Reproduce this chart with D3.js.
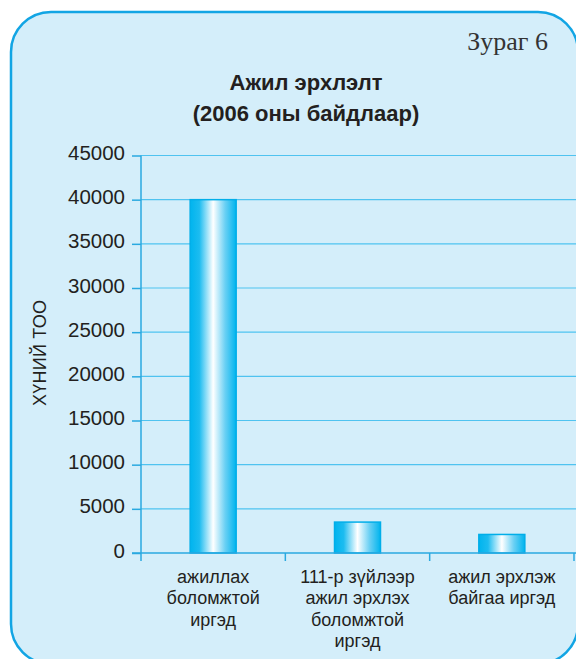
<!DOCTYPE html>
<html>
<head>
<meta charset="utf-8">
<script src="https://cdn.jsdelivr.net/npm/d3@7"></script>
<style>
  html, body { margin: 0; padding: 0; background: #ffffff; }
  svg { display: block; }
</style>
</head>
<body>
<svg id="chart" width="576" height="659"></svg>
<script>
// ---- data ----
const categories = [
  ["ажиллах", "боломжтой", "иргэд"],
  ["111-р зүйлээр", "ажил эрхлэх", "боломжтой", "иргэд"],
  ["ажил эрхлэж", "байгаа иргэд"]
];
const categoryKeys = ["c1", "c2", "c3"];
const values = [40000, 3500, 2100];
const yTicks = [0, 5000, 10000, 15000, 20000, 25000, 30000, 35000, 40000, 45000];
const titleLines = ["Ажил эрхлэлт", "(2006 оны байдлаар)"];
const figureLabel = "Зураг 6";
const yLabel = "ХҮНИЙ ТОО";

// ---- layout ----
const svg = d3.select("#chart");
const plot = { left: 141, right: 574, top: 155.5, bottom: 553 };
const ink = "#231f20";
const sans = "'Liberation Sans', Arial, Helvetica, sans-serif";

// gradient
const defs = svg.append("defs");
const grad = defs.append("linearGradient").attr("id", "barGrad")
  .attr("x1", "0%").attr("x2", "100%").attr("y1", "0%").attr("y2", "0%");
[[0, "#00b4ee"], [0.2, "#1cbcf0"], [0.5, "#ffffff"], [0.76, "#6ad0f4"], [1, "#00b4ee"]]
  .forEach(([o, c]) => grad.append("stop").attr("offset", o).attr("stop-color", c));

// panel
svg.append("rect")
  .attr("x", 11).attr("y", 12).attr("width", 567).attr("height", 652)
  .attr("rx", 40).attr("ry", 40)
  .attr("fill", "#d4eefa").attr("stroke", "#12a5e4").attr("stroke-width", 2.5);

// figure label
svg.append("text").attr("x", 548).attr("y", 50)
  .attr("text-anchor", "end")
  .attr("font-family", "'Liberation Serif', 'DejaVu Serif', serif")
  .attr("font-size", 26).attr("fill", "#333").text(figureLabel);

// title
svg.append("text").attr("text-anchor", "middle")
  .attr("font-family", sans).attr("font-weight", "bold")
  .attr("font-size", 22).attr("fill", ink)
  .selectAll("tspan").data(titleLines).join("tspan")
  .attr("x", 306).attr("y", (d, i) => 90 + i * 31).text(d => d);

// scales
const x = d3.scaleBand().domain(categoryKeys).range([plot.left, plot.right]).paddingInner(0).paddingOuter(0);
const y = d3.scaleLinear().domain([0, 45000]).range([plot.bottom, plot.top]);

// gridlines
svg.append("g").selectAll("line").data(yTicks.filter(d => d > 0)).join("line")
  .attr("x1", plot.left).attr("x2", 576)
  .attr("y1", d => y(d)).attr("y2", d => y(d))
  .attr("stroke", "#4fc3f0").attr("stroke-width", 1.2);

// y axis
const yAxis = svg.append("g").attr("transform", `translate(${plot.left},0)`)
  .call(d3.axisLeft(y).tickValues(yTicks).tickSize(9).tickPadding(7).tickFormat(d3.format("d")));
yAxis.select(".domain").attr("stroke", "#2aa9e0").attr("stroke-width", 1.5)
  .attr("d", `M0,${plot.top}V${plot.bottom + 8}`);
yAxis.selectAll(".tick line").attr("stroke", "#2aa9e0").attr("stroke-width", 1.5);
yAxis.selectAll(".tick text")
  .attr("font-family", sans).attr("dy", "0.2em")
  .attr("font-size", 20.5).attr("fill", ink);

// bars
const barW = 46;
svg.append("g").selectAll("rect").data(values).join("rect")
  .attr("x", (d, i) => x(categoryKeys[i]) + x.bandwidth() / 2 - barW / 2)
  .attr("y", d => y(d))
  .attr("width", barW)
  .attr("height", d => y(0) - y(d))
  .attr("fill", "url(#barGrad)")
  .attr("stroke", "#00aee9").attr("stroke-width", 1.5);

// x axis
const xAxisG = svg.append("g").attr("transform", `translate(0,${plot.bottom})`);
xAxisG.append("line").attr("x1", plot.left - 9).attr("x2", 576).attr("y1", 0).attr("y2", 0)
  .attr("stroke", "#2aa9e0").attr("stroke-width", 1.5);
xAxisG.selectAll("line.sep").data(categoryKeys).join("line").attr("class", "sep")
  .attr("x1", d => x(d) + x.bandwidth()).attr("x2", d => x(d) + x.bandwidth())
  .attr("y1", 0).attr("y2", 8)
  .attr("stroke", "#2aa9e0").attr("stroke-width", 1.5);

// category labels
categoryKeys.forEach((k, i) => {
  svg.append("text").attr("text-anchor", "middle")
    .attr("font-family", sans)
    .attr("font-size", 18).attr("fill", ink)
    .selectAll("tspan").data(categories[i]).join("tspan")
    .attr("x", x(k) + x.bandwidth() / 2)
    .attr("y", (d, j) => 583 + j * 21.3)
    .text(d => d);
});

// y label
svg.append("text")
  .attr("transform", "translate(46,353) rotate(-90)")
  .attr("text-anchor", "middle")
  .attr("font-family", sans)
  .attr("font-size", 18).attr("fill", ink)
  .attr("textLength", 106).attr("lengthAdjust", "spacing")
  .text(yLabel);
</script>
</body>
</html>
